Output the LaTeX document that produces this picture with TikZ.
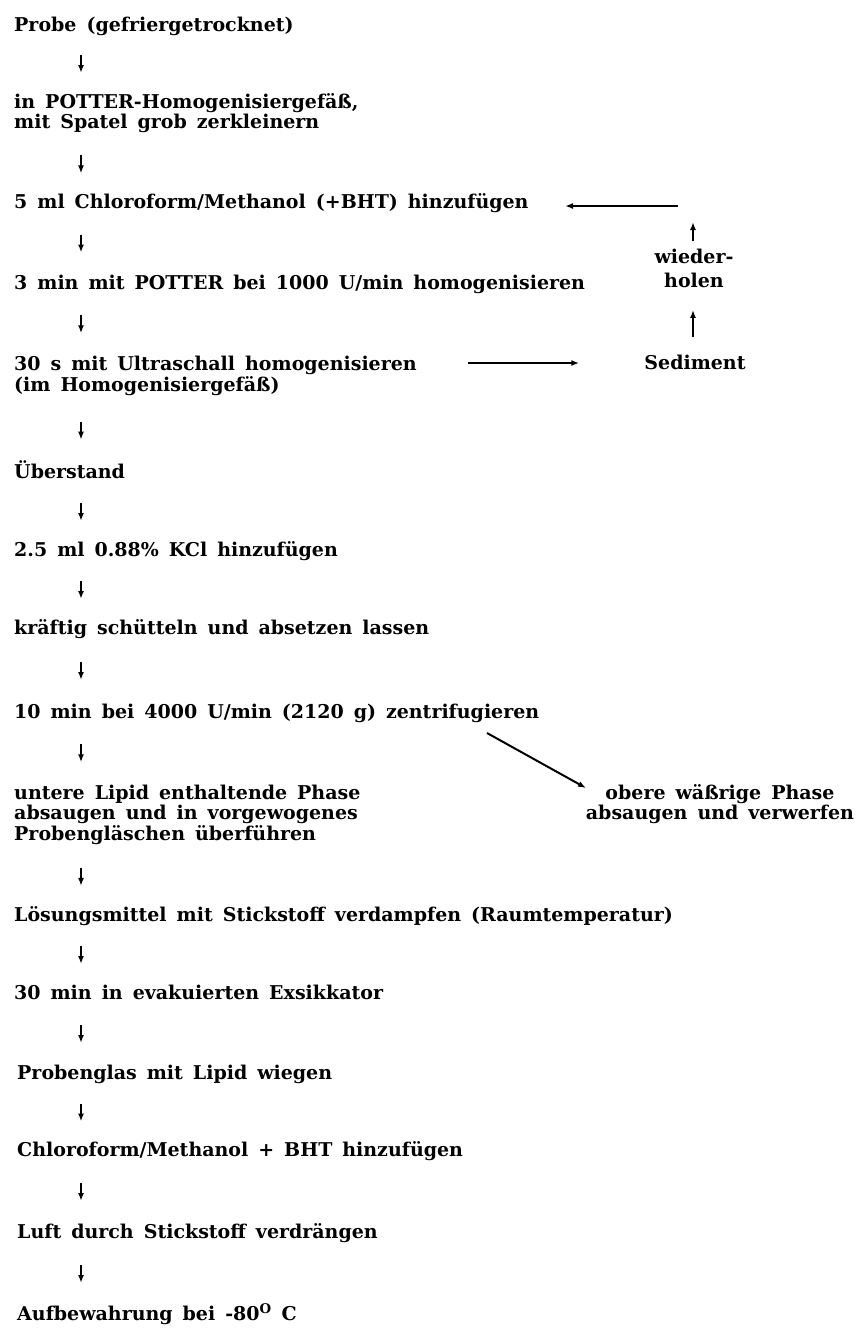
\documentclass[tikz,border=0pt]{standalone}
\usepackage{fontspec}
\setmainfont{DejaVu Serif}
\usetikzlibrary{arrows.meta,calc}
\newcommand\flowfont{\fontsize{19}{20.5}\selectfont\bfseries\spaceskip=10pt plus 1pt minus 0pt\relax}
\begin{document}
\begin{tikzpicture}[x=1pt,y=-1pt,
  txt/.style={font=\flowfont, inner sep=0pt, text height=14pt, text depth=4pt},
  stepnode/.style={txt, anchor=base west},
  multinode/.style={txt, anchor=base west, text height=, text depth=},
  cmultinode/.style={txt, anchor=base, text height=, text depth=},
  dar/.style={line width=2pt, -{Latex[length=8pt,width=6pt]}},
]
\useasboundingbox[fill=white] (0,0) rectangle (857,1344);
\coordinate (ax) at (81,0);
\newcommand\stepar[2]{\draw[dar] ($(#1.south -| ax)!.5!(#2.north -| ax)$) ++(0,-9) -- ++(0,18);}

\node[stepnode] (s1) at (14,31) {Probe (gefriergetrocknet)};
\node[multinode] (s2) at (14,108) {\begin{tabular}[t]{@{}l@{}}in POTTER-Homogenisiergefäß,\\ mit Spatel grob zerkleinern\end{tabular}};
\node[stepnode] (s3) at (14,208) {5 ml Chloroform/Methanol (+BHT) hinzufügen};
\node[stepnode] (s4) at (14,289) {3 min mit POTTER bei 1000 U/min homogenisieren};
\node[multinode] (s5) at (14,370) {\begin{tabular}[t]{@{}l@{}}30 s mit Ultraschall homogenisieren\\ (im Homogenisiergefäß)\end{tabular}};
\node[stepnode] (s6) at (14,478) {Überstand};
\node[stepnode] (s7) at (14,556) {2.5 ml 0.88\% KCl hinzufügen};
\node[stepnode] (s8) at (14,634) {kräftig schütteln und absetzen lassen};
\node[stepnode] (s9) at (14,718) {10 min bei 4000 U/min (2120 g) zentrifugieren};
\node[multinode] (s10) at (14,799) {\begin{tabular}[t]{@{}l@{}}untere Lipid enthaltende Phase\\ absaugen und in vorgewogenes\\ Probengläschen überführen\end{tabular}};
\node[stepnode] (s11) at (14,921) {Lösungsmittel mit Stickstoff verdampfen (Raumtemperatur)};
\node[stepnode] (s12) at (14,999) {30 min in evakuierten Exsikkator};
\node[stepnode] (s13) at (17,1079) {Probenglas mit Lipid wiegen};
\node[stepnode] (s14) at (17,1156) {Chloroform/Methanol + BHT hinzufügen};
\node[stepnode] (s15) at (17,1238) {Luft durch Stickstoff verdrängen};
\node[stepnode] (s16) at (17,1320) {Aufbewahrung bei -80\textsuperscript{O} C};

\node[cmultinode] (rep) at (694,263) {\begin{tabular}[t]{@{}c@{}}wieder-\\[4pt] holen\end{tabular}};
\node[txt, anchor=base] (sed) at (695,369) {Sediment};
\node[cmultinode] (obr) at (720,799) {\begin{tabular}[t]{@{}c@{}}obere wäßrige Phase\\ absaugen und verwerfen\end{tabular}};

\stepar{s1}{s2}
\stepar{s2}{s3}
\stepar{s3}{s4}
\stepar{s4}{s5}
\stepar{s5}{s6}
\stepar{s6}{s7}
\stepar{s7}{s8}
\stepar{s8}{s9}
\stepar{s9}{s10}
\stepar{s10}{s11}
\stepar{s11}{s12}
\stepar{s12}{s13}
\stepar{s13}{s14}
\stepar{s14}{s15}
\stepar{s15}{s16}

% loop: Sediment -> wiederholen -> back to step 3
\coordinate (upTop) at (693,222);
\coordinate (loopStart) at (678,206);
\coordinate (loopEnd) at (565,206);
\coordinate (toSedStart) at (468,363);
\coordinate (diagStart) at (487,733);
\coordinate (diagEnd) at (586,788);
\draw[dar] (sed.north -| upTop) ++(0,-18) coordinate (u2s) -- ($(rep.south -| upTop)+(0,16)$);
\draw[dar] (u2s |- rep.north) ++(0,-7) -- (upTop);
\draw[dar] (loopStart) -- (loopEnd);
\draw[dar] (toSedStart) -- ($(sed.west |- toSedStart)+(-65,0)$);
\draw[dar] (diagStart) -- (diagEnd);
\end{tikzpicture}
\end{document}
